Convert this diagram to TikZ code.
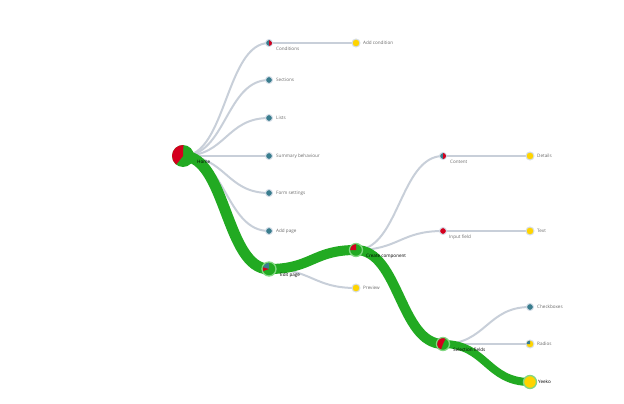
\documentclass[tikz,border=0pt]{standalone}
\usepackage{fontspec}
\setsansfont{Open Sans}
\usetikzlibrary{calc,backgrounds}

\definecolor{hotgreen}{RGB}{34,170,34}
\definecolor{ringgreen}{RGB}{130,215,130}
\definecolor{tealnode}{RGB}{58,125,142}
\definecolor{rednode}{RGB}{212,0,30}
\definecolor{yellownode}{RGB}{255,212,0}
\definecolor{ringgray}{RGB}{214,222,232}
\definecolor{linkgray}{RGB}{200,207,217}
\definecolor{lblgray}{RGB}{105,105,105}

% slice of a pie node: node, start angle, end angle, radius, colour
\newcommand{\wedgefill}[5]{\fill[#5] (#1.center) -- ++(#2:#4) arc[start angle=#2,end angle=#3,radius=#4] -- cycle;}

\begin{document}
\begin{tikzpicture}[x=1pt,y=1pt,
  leaf/.style={circle,draw=ringgray,line width=1pt,minimum size=7pt,inner sep=0pt},
  hotnode/.style={circle,draw=ringgreen,line width=1.3pt,fill=hotgreen,inner sep=0pt},
  link/.style={draw=linkgray,line width=2pt},
  hotlink/.style={draw=hotgreen,line width=#1},
  lbl/.style={anchor=west,inner sep=0pt,text=lblgray,font=\sffamily\fontsize{4.6}{5}\selectfont},
  hotlbl/.style={lbl,text=black}]
    \useasboundingbox (0,0) rectangle (624,-404);

    % level 0
    \node[hotnode,draw=none,minimum size=22pt] (home) at (183,-156) {};

    % level 1
    \node[leaf,fill=tealnode] (conditions) at (269,-43) {};
    \node[leaf,fill=tealnode] (sections) at (269,-80) {};
    \node[leaf,fill=tealnode] (lists) at (269,-118) {};
    \node[leaf,fill=tealnode] (summary) at (269,-156) {};
    \node[leaf,fill=tealnode] (formsettings) at (269,-193) {};
    \node[leaf,fill=tealnode] (addpage) at (269,-231) {};
    \node[hotnode,minimum size=14pt] (editpage) at (269,-269) {};

    % level 2
    \node[leaf,fill=yellownode,minimum size=8pt] (addcondition) at (356,-43) {};
    \node[hotnode,minimum size=13pt] (createcomp) at (356,-250) {};
    \node[leaf,fill=yellownode,minimum size=8pt] (preview) at (356,-288) {};

    % level 3
    \node[leaf,fill=tealnode] (content) at (443,-156) {};
    \node[leaf,fill=rednode] (inputfield) at (443,-231) {};
    \node[hotnode,minimum size=13pt] (selfields) at (443,-344) {};

    % level 4
    \node[leaf,fill=yellownode,minimum size=8pt] (details) at (530,-156) {};
    \node[leaf,fill=yellownode,minimum size=8pt] (text) at (530,-231) {};
    \node[leaf,fill=tealnode] (checkboxes) at (530,-307) {};
    \node[leaf,fill=yellownode,minimum size=8pt] (radios) at (530,-344) {};
    \node[hotnode,fill=yellownode,minimum size=13pt] (yeeko) at (530,-382) {};

    % pie slices
    \wedgefill{home}{88}{232}{11}{rednode}
    \wedgefill{editpage}{90}{165}{6.3}{tealnode}
    \wedgefill{editpage}{165}{200}{6.3}{rednode}
    \wedgefill{createcomp}{90}{180}{5.8}{rednode}
    \wedgefill{selfields}{65}{250}{5.8}{rednode}
    \wedgefill{conditions}{-80}{80}{3}{rednode}
    \wedgefill{content}{-90}{90}{3}{rednode}
    \wedgefill{radios}{90}{180}{3.5}{tealnode}

    \begin{scope}[on background layer]
    \foreach \kid in {conditions,sections,lists,summary,formsettings,addpage}
        \draw[link] (home.center) .. controls +(43,0) and +(-43,0) .. (\kid.center);
    \draw[link] (conditions.center) -- (addcondition.center);
    \draw[link] (editpage.center) .. controls +(43,0) and +(-43,0) .. (preview.center);
    \draw[link] (createcomp.center) .. controls +(43,0) and +(-43,0) .. (content.center);
    \draw[link] (createcomp.center) .. controls +(43,0) and +(-43,0) .. (inputfield.center);
    \draw[link] (content.center) -- (details.center);
    \draw[link] (inputfield.center) -- (text.center);
    \draw[link] (selfields.center) .. controls +(43,0) and +(-43,0) .. (checkboxes.center);
    \draw[link] (selfields.center) -- (radios.center);

    \draw[hotlink=11pt] (home.center) .. controls +(43,0) and +(-43,0) .. (editpage.center);
    \draw[hotlink=10pt] (editpage.center) .. controls +(43,0) and +(-43,0) .. (createcomp.center);
    \draw[hotlink=10pt] (createcomp.center) .. controls +(43,0) and +(-43,0) .. (selfields.center);
    \draw[hotlink=8pt] (selfields.center) .. controls +(43,0) and +(-43,0) .. (yeeko.center);
    \end{scope}

    % labels
    \node[hotlbl] (l-home) at ($(home)+(14,-6)$) {Home};
    \node[lbl] (l-conditions) at ($(conditions)+(7,-6)$) {Conditions};
    \node[lbl] (l-sections) at ($(sections)+(7,0)$) {Sections};
    \node[lbl] (l-lists) at ($(lists)+(7,0)$) {Lists};
    \node[lbl] (l-summary) at ($(summary)+(7,0)$) {Summary behaviour};
    \node[lbl] (l-formsettings) at ($(formsettings)+(7,0)$) {Form settings};
    \node[lbl] (l-addpage) at ($(addpage)+(7,0)$) {Add page};
    \node[hotlbl] (l-editpage) at ($(editpage)+(11,-6)$) {Edit page};
    \node[lbl] (l-addcondition) at ($(addcondition)+(7,0)$) {Add condition};
    \node[hotlbl] (l-createcomp) at ($(createcomp)+(10,-6)$) {Create component};
    \node[lbl] (l-preview) at ($(preview)+(7,0)$) {Preview};
    \node[lbl] (l-content) at ($(content)+(7,-6)$) {Content};
    \node[lbl] (l-inputfield) at ($(inputfield)+(6,-6)$) {Input field};
    \node[hotlbl] (l-selfields) at ($(selfields)+(10,-6)$) {Selection fields};
    \node[lbl] (l-details) at ($(details)+(7,0)$) {Details};
    \node[lbl] (l-text) at ($(text)+(7,0)$) {Text};
    \node[lbl] (l-checkboxes) at ($(checkboxes)+(7,0)$) {Checkboxes};
    \node[lbl] (l-radios) at ($(radios)+(7,0)$) {Radios};
    \node[hotlbl] (l-yeeko) at ($(yeeko)+(8,0)$) {Yeeko};

\end{tikzpicture}
\end{document}
